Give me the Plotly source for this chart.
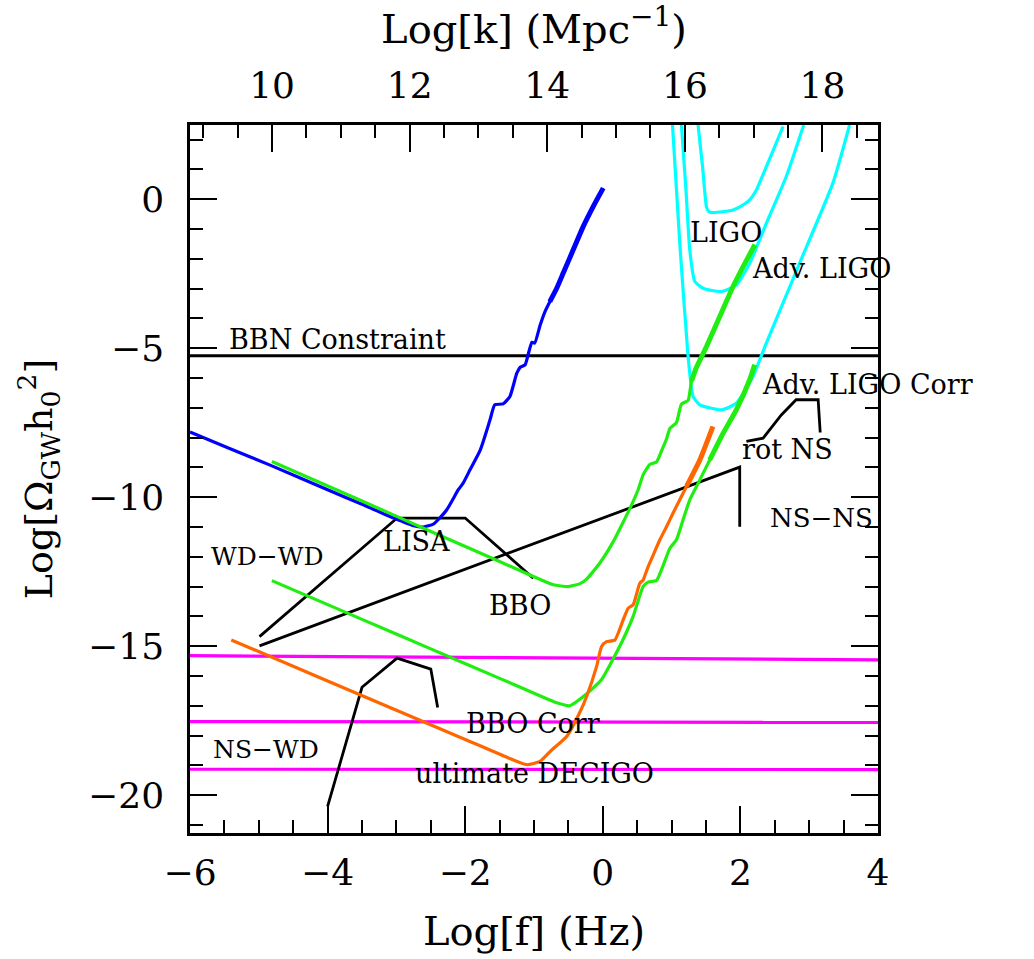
import plotly.graph_objects as go

# ---------------- data ----------------
K_OFFSET = 14.807  # Log[k/Mpc^-1] = Log[f/Hz] + K_OFFSET

x_ticks = [-6, -4, -2, 0, 2, 4]
x_ticklabels = ["−6", "−4", "−2", "0", "2", "4"]
k_ticks = [10, 12, 14, 16, 18]
k_ticklabels = ["10", "12", "14", "16", "18"]
y_ticks = [0, -5, -10, -15, -20]
y_ticklabels = ["0", "−5", "−10", "−15", "−20"]

bbn_f = [-6.0, 4.0]
bbn_y = [-5.25, -5.25]

lisa_f = [-6.0, -5.46, -4.81, -4.0, -3.5, -3.04, -2.75, -2.61, -2.46, -2.27, -2.10,
          -2.03, -1.93, -1.78, -1.64, -1.57, -1.45, -1.35, -1.25, -1.20, -1.13, -1.08,
          -1.03, -0.99, -0.91, -0.84, -0.77, -0.67, -0.575, -0.43, -0.285, -0.14, 0.006]
lisa_y = [-7.81, -8.33, -8.95, -9.75, -10.24, -10.70, -10.96, -11.0, -10.90, -10.43, -9.75,
          -9.53, -9.08, -8.41, -7.41, -6.90, -6.87, -6.62, -5.84, -5.64, -5.56, -5.17,
          -4.80, -4.83, -4.22, -3.77, -3.44, -2.99, -2.48, -1.70, -0.92, -0.25, 0.37]

bbo_f = [-4.81, -3.5, -2.5, -1.5, -1.01, -0.72, -0.5, -0.33, -0.235, -0.04, 0.15, 0.25,
         0.39, 0.44, 0.514, 0.586, 0.683, 0.78, 0.853, 0.926, 0.974, 1.07, 1.143, 1.24,
         1.29, 1.36, 1.506, 1.70, 1.893, 2.04, 2.21]
bbo_y = [-8.80, -10.13, -11.15, -12.16, -12.66, -12.94, -13.0, -12.9, -12.75, -12.2, -11.5, -11.05,
         -10.4, -10.15, -9.75, -9.25, -8.9, -8.82, -8.45, -8.05, -7.7, -7.5, -6.88, -6.75,
         -6.1, -5.65, -4.95, -3.94, -2.93, -2.26, -1.53]

bbocorr_f = [-4.81, -3.5, -2.5, -1.5, -0.9, -0.67, -0.48, -0.26, -0.02, 0.18, 0.3, 0.441,
             0.586, 0.659, 0.78, 0.974, 1.07, 1.167, 1.264, 1.41, 1.554, 1.75, 1.94, 2.135, 2.207]
bbocorr_y = [-12.80, -14.10, -15.09, -16.08, -16.68, -16.9, -17.0, -16.65, -16.13, -15.3, -14.75, -14.0,
             -13.0, -12.85, -12.8, -11.72, -11.43, -10.76, -10.09, -9.42, -8.75, -7.85, -7.07, -6.06, -5.56]

decigo_f = [-5.40, -4.0, -3.0, -2.0, -1.30, -1.10, -0.913, -0.75, -0.525, -0.33, -0.235, -0.09,
            -0.018, 0.055, 0.176, 0.296, 0.369, 0.441, 0.538, 0.586, 0.659, 0.731, 0.83, 0.926,
            1.02, 1.216, 1.41, 1.60]
decigo_y = [-14.79, -16.17, -17.15, -18.13, -18.82, -18.98, -18.87, -18.5, -18.03, -17.2, -16.69, -15.68,
            -15.01, -14.85, -14.79, -14.12, -13.73, -13.61, -12.89, -12.78, -12.33, -11.95, -11.43, -10.99,
            -10.54, -9.64, -8.75, -7.63]

ligo_f = [1.385, 1.45, 1.506, 1.535, 1.58, 1.70, 1.893, 2.0, 2.135, 2.232, 2.377, 2.52, 2.62]
ligo_y = [2.49, 1.09, -0.25, -0.40, -0.45, -0.43, -0.36, -0.25, -0.02, 0.31, 1.09, 1.88, 2.44]

advligo_f = [1.143, 1.206, 1.264, 1.337, 1.457, 1.724, 1.94, 2.135, 2.377, 2.667, 2.92]
advligo_y = [2.49, 0.42, -1.70, -2.76, -2.99, -3.10, -2.88, -2.15, -0.81, 0.76, 2.49]

advligocorr_f = [1.013, 1.119, 1.24, 1.312, 1.41, 1.724, 1.94, 2.18, 2.377, 2.86, 3.344, 3.587]
advligocorr_y = [2.49, -1.48, -5.28, -6.62, -6.90, -7.07, -6.85, -5.96, -4.83, -2.15, 0.54, 2.49]

wdwd_f = [-4.99, -2.99, -2.0, -1.01]
wdwd_y = [-14.68, -10.70, -10.70, -12.72]

nsns_f = [-4.99, 1.99, 1.99]
nsns_y = [-14.99, -8.99, -10.99]

nswd_f = [-4.0, -3.5, -2.99, -2.5, -2.40]
nswd_y = [-20.38, -16.38, -15.40, -15.77, -17.06]

rotns_f = [2.087, 2.33, 2.595, 2.81, 3.13, 3.16]
rotns_y = [-8.13, -8.02, -7.24, -6.73, -6.73, -7.83]

einf_labels = ["2×10<sup>16</sup> GeV", "5×10<sup>15</sup> GeV", "2×10<sup>15</sup> GeV"]
einf_f = [[-6.0, 0.0, 4.0], [-6.0, 4.0], [-6.0, 4.0]]
einf_y = [[-15.32, -15.41, -15.46], [-17.53, -17.56], [-19.13, -19.14]]

# ---------------- figure ----------------
BLUE = "#0000ff"
GREEN = "#1fee10"
ORANGE = "#ff6600"
CYAN = "#00ffff"
MAGENTA = "#ff00ff"
BLACK = "#000000"

fig = go.Figure()


def add(xs, ys, color, width, shape="linear"):
    fig.add_trace(go.Scatter(x=xs, y=ys, mode="lines",
                             line=dict(color=color, width=width, shape=shape,
                                       smoothing=0.5 if shape == "spline" else None),
                             showlegend=False, hoverinfo="skip"))


def add_thick(xs, ys, fmin, color, width):
    sx = [a for a in xs if a >= fmin]
    sy = [b for a, b in zip(xs, ys) if a >= fmin]
    add(sx, sy, color, width, "spline")


for xs, ys in zip(einf_f, einf_y):
    add(xs, ys, MAGENTA, 3.2)

add(bbn_f, bbn_y, BLACK, 3)
add(wdwd_f, wdwd_y, BLACK, 2.8)
add(nsns_f, nsns_y, BLACK, 2.8)
add(nswd_f, nswd_y, BLACK, 2.8)
add(rotns_f, rotns_y, BLACK, 2.8)

add(ligo_f, ligo_y, CYAN, 3.2, "spline")
add(advligo_f, advligo_y, CYAN, 3.2, "spline")
add(advligocorr_f, advligocorr_y, CYAN, 3.2, "spline")

add(lisa_f, lisa_y, BLUE, 3.2, "spline")
add_thick(lisa_f, lisa_y, -0.8, BLUE, 5)
add(bbo_f, bbo_y, GREEN, 3.2, "spline")
add_thick(bbo_f, bbo_y, 1.29, GREEN, 5)
add(bbocorr_f, bbocorr_y, GREEN, 3.2, "spline")
add_thick(bbocorr_f, bbocorr_y, 1.5, GREEN, 5)
add(decigo_f, decigo_y, ORANGE, 3.2, "spline")
add_thick(decigo_f, decigo_y, 1.1, ORANGE, 5)

# top (wavenumber) axis carrier
fig.add_trace(go.Scatter(x=[-6 + K_OFFSET, 4 + K_OFFSET], y=[None, None], xaxis="x2",
                         mode="lines", showlegend=False, hoverinfo="skip"))

LABEL_FONT = dict(family="DejaVu Serif", size=27, color="black")
labels = [
    ("BBN Constraint", -3.855, -4.72, 27),
    ("LIGO", 1.787, -1.13, 27),
    ("Adv. LIGO", 3.18, -2.31, 27),
    ("Adv. LIGO Corr", 3.85, -6.23, 27),
    ("rot NS", 2.687, -8.41, 27),
    ("NS−NS", 3.18, -10.69, 26),
    ("WD−WD", -4.88, -12.0, 25),
    ("LISA", -2.71, -11.5, 27),
    ("BBO", -1.20, -13.65, 27),
    ("BBO Corr", -1.01, -17.6, 27),
    ("ultimate DECIGO", -1.0, -19.28, 27),
    ("NS−WD", -4.90, -18.48, 25),
    ("E<sub>inf</sub>", 5.01, -14.52, 27),
]
for txt, x, y, sz in labels:
    fig.add_annotation(x=x, y=y, xref="x", yref="y", text=txt, showarrow=False,
                       font=dict(family="DejaVu Serif", size=sz, color="black"),
                       xanchor="center", yanchor="middle")
for txt, ys in zip(einf_labels, einf_y):
    fig.add_annotation(x=4.07, y=ys[-1] - 0.05, xref="x", yref="y", text=txt, showarrow=False,
                       font=dict(family="DejaVu Serif", size=25, color="black"),
                       xanchor="left", yanchor="middle")

TICKFONT = dict(family="DejaVu Serif", size=36, color="black")
TITLEFONT = dict(family="DejaVu Serif", size=40, color="black")

fig.update_layout(
    width=1034, height=959,
    margin=dict(l=190, r=156, t=125, b=126, autoexpand=False),
    plot_bgcolor="white", paper_bgcolor="white", showlegend=False,
    font=dict(family="DejaVu Serif", color="black"),
    xaxis=dict(range=[-6, 4], tickvals=x_ticks, ticktext=x_ticklabels, tickfont=TICKFONT,
               ticks="inside", ticklen=27, tickwidth=1.5, tickcolor="black",
               minor=dict(dtick=0.5, tick0=0, ticks="inside", ticklen=13, tickwidth=1.5, tickcolor="black"),
               showline=True, linewidth=2.5, linecolor="black", mirror=False,
               showgrid=False, zeroline=False, ticklabelstandoff=6,
               title=dict(text="Log[f] (Hz)", font=TITLEFONT, standoff=26)),
    xaxis2=dict(range=[-6 + K_OFFSET, 4 + K_OFFSET], overlaying="x", side="top",
                tickvals=k_ticks, ticktext=k_ticklabels, tickfont=TICKFONT,
                ticks="inside", ticklen=27, tickwidth=1.5, tickcolor="black",
                minor=dict(dtick=0.5, tick0=0, ticks="inside", ticklen=13, tickwidth=1.5, tickcolor="black"),
                showline=True, linewidth=2.5, linecolor="black",
                showgrid=False, zeroline=False, ticklabelstandoff=10,
                title=dict(text="Log[k] (Mpc<sup>−1</sup>)", font=TITLEFONT, standoff=28)),
    yaxis=dict(range=[-21.27, 2.49], tickvals=y_ticks, ticktext=y_ticklabels, tickfont=TICKFONT,
               ticks="inside", ticklen=27, tickwidth=1.5, tickcolor="black",
               minor=dict(dtick=1, tick0=0, ticks="inside", ticklen=13, tickwidth=1.5, tickcolor="black"),
               showline=True, linewidth=2.5, linecolor="black", mirror="ticks",
               showgrid=False, zeroline=False, ticklabelstandoff=16,
               title=dict(text="Log[Ω<sub>GW</sub>h<sub>0</sub><sup>2</sup>]",
                          font=dict(family="DejaVu Serif", size=38, color="black"), standoff=24)),
)

fig.write_html("out.html")
